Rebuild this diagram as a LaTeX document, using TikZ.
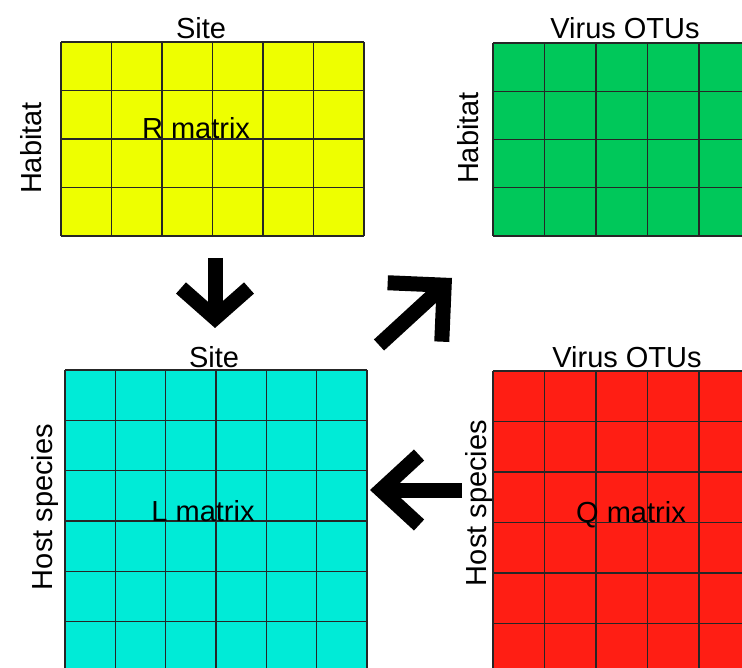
\documentclass[tikz,border=0pt]{standalone}
\usepackage{fontspec}
\setmainfont{Liberation Sans}
\usetikzlibrary{calc,arrows.meta}
\definecolor{rcol}{RGB}{238,255,0}
\definecolor{gcol}{RGB}{0,200,90}
\definecolor{lcol}{RGB}{0,235,215}
\definecolor{qcol}{RGB}{255,30,20}

\begin{document}
\begin{tikzpicture}[x=1pt,y=-1pt]
    \tikzset{matbox/.style={rectangle, anchor=north west, inner sep=0pt, outer sep=0pt},
             cell/.style={draw=black!85, line width=1.1pt},
             lab/.style={anchor=base, inner sep=0pt, font=\fontsize{29}{34}\selectfont},
             bigarrow/.style={line width=15pt, black}}
    \useasboundingbox (0,0) rectangle (742,668);
    \clip (0,0) rectangle (742,668);
    % Matrices
    \node[matbox, fill=rcol, minimum width=303pt, minimum height=194pt] (R) at (61,42) {};
    \node[matbox, fill=gcol, minimum width=309pt, minimum height=193pt] (G) at (493,43) {};
    \node[matbox, fill=lcol, minimum width=302pt, minimum height=302pt] (L) at (65,370) {};
    \node[matbox, fill=qcol, minimum width=309pt, minimum height=303pt] (Q) at (493,371) {};
    % Cells
    \foreach \m/\c/\r in {R/6/4, G/6/4, L/6/6, Q/6/6} {
        \foreach \i in {0,...,\c}
            \draw[cell] ($(\m.north west)!\i/\c!(\m.north east)$) -- ($(\m.south west)!\i/\c!(\m.south east)$);
        \foreach \j in {0,...,\r}
            \draw[cell] ($(\m.north west)!\j/\r!(\m.south west)$) -- ($(\m.north east)!\j/\r!(\m.south east)$);
    }
    % Labels
    \node[lab] (rtop) at (201,39) {Site};
    \node[lab, rotate=90] (rside) at (41,148) {Habitat};
    \node[lab] (rname) at (196,139) {R matrix};
    \node[lab] (gtop) at (625,39) {Virus OTUs};
    \node[lab, rotate=90] (gside) at (478,138) {Habitat};
    \node[lab] (ltop) at (214,367) {Site};
    \node[lab, rotate=90] (lside) at (52,507) {Host species};
    \node[lab] (lname) at (203,521) {L matrix};
    \node[lab] (qtop) at (627,367) {Virus OTUs};
    \node[lab, rotate=90] (qside) at (486,503) {Host species};
    \node[lab] (qname) at (631,522) {Q matrix};
    % Arrows
    \coordinate (downtail) at (215,258);
    \coordinate (downtip) at (215,328);
    \coordinate (diagtail) at (379,345);
    \coordinate (diagtip) at (452,278);
    \coordinate (lefttail) at (462,490);
    \coordinate (lefttip) at (370,490);
    \draw[bigarrow, -{Straight Barb[length=30pt, width=68pt]}] (downtail) -- (downtip);
    \draw[bigarrow, -{Straight Barb[length=40pt, width=80pt]}] (diagtail) -- (diagtip);
    \draw[bigarrow, -{Straight Barb[length=38pt, width=70pt]}] (lefttail) -- (lefttip);
\end{tikzpicture}
\end{document}
